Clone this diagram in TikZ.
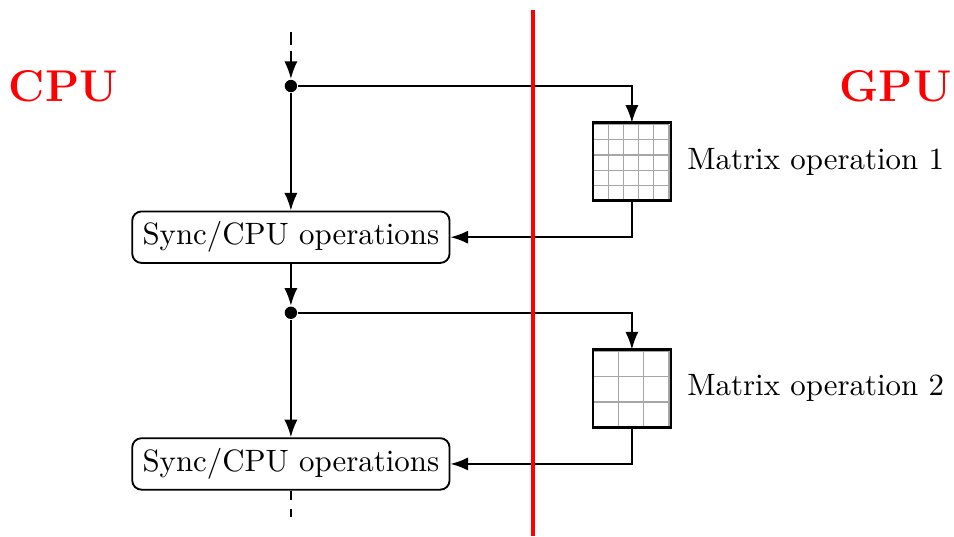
\documentclass[tikz,border=0pt]{standalone}
\usetikzlibrary{arrows.meta,positioning,calc}

\begin{document}
\begin{tikzpicture}[>=Latex, semithick]
\tikzstyle{op}=[draw, rounded corners=3pt, align=center]
\tikzstyle{mat}=[minimum size=8.65mm, inner sep=0pt]
\tikzstyle{dot}=[circle, fill, inner sep=0pt, minimum size=4pt]
\tikzstyle{side}=[font=\Large\bfseries, text=red]
\useasboundingbox (-3.31,0.979) rectangle (7.545,-5.12);

% host / device labels
\node[side] (cpu) at (-2.59,0) {CPU};
\node[side] (gpu) at (6.88,0) {GPU};

% CPU timeline
\coordinate (top) at (0,0.61);
\node[dot] (d1) at (0,0) {};
\node[op] (s1) at (0,-1.72) {Sync/CPU operations};
\node[dot] (d2) at (0,-2.58) {};
\node[op] (s2) at (0,-4.30) {Sync/CPU operations};
\coordinate (bot) at (0,-4.90);

% GPU kernels
\node[mat] (m1) at (3.88,-0.86) {};
\node[mat] (m2) at (3.88,-3.44) {};
\node[right=0.6mm of m1] (l1) {Matrix operation 1};
\node[right=0.6mm of m2] (l2) {Matrix operation 2};

\foreach \m/\n in {m1/5, m2/3} {
  \foreach \k in {1,...,\n}
    \draw[gray!70, thin]
      ($(\m.south west)+({\k*8.65mm/\n},0)$) -- ++(0,8.65mm)
      ($(\m.south west)+(0,{\k*8.65mm/\n})$) -- ++(8.65mm,0);
  \draw[thick] (\m.south west) rectangle (\m.north east);
}

\draw[->, dash pattern=on 4pt off 2pt] (top) -- (d1);
\draw[->] (d1) -- (s1);
\draw[->] (d1) -| (m1);
\draw[->] (m1) |- (s1);
\draw[->] (s1) -- (d2);
\draw[->] (d2) -- (s2);
\draw[->] (d2) -| (m2);
\draw[->] (m2) |- (s2);
\draw[dash pattern=on 3pt off 3pt] (s2) -- (bot);

% host/device boundary
\coordinate (rt) at (2.75,0.865);
\coordinate (rb) at (2.75,-5.12);
\draw[red, line width=1.3pt] (rt) -- (rb);
\end{tikzpicture}
\end{document}
